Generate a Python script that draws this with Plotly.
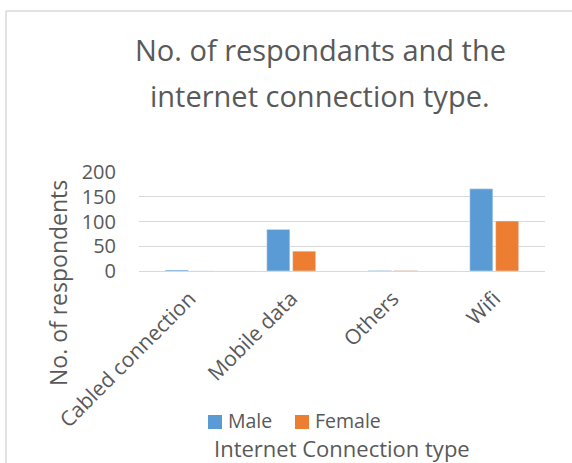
import plotly.graph_objects as go

categories = ["Cabled connection", "Mobile data", "Others", "Wifi"]
male = [2, 84, 1, 166]
female = [0, 40, 1, 101]
y_ticks = [0, 50, 100, 150, 200]
series_names = ["Male", "Female"]
series_colors = ["#5B9BD5", "#ED7D31"]

W, H = 572, 463
L, R, T, B = 139, 545, 172, 271  # plot area in px

def px(x):
    return (x - L) / (R - L)

def py(y):
    return (B - y) / (B - T)

FONT = "Open Sans"
TXT = "#595959"

fig = go.Figure()
for name, vals, col in zip(series_names, [male, female], series_colors):
    fig.add_trace(go.Bar(name=name, x=categories, y=vals, marker_color=col))

annotations = [
    dict(text="No. of respondants and the", x=px(320), y=py(49), xref="paper", yref="paper",
         showarrow=False, xanchor="center", yanchor="middle", font=dict(size=29, color=TXT)),
    dict(text="internet connection type.", x=px(320), y=py(95), xref="paper", yref="paper",
         showarrow=False, xanchor="center", yanchor="middle", font=dict(size=29, color=TXT)),
    dict(text="No. of respondents", x=px(58), y=py(283), xref="paper", yref="paper",
         showarrow=False, textangle=-90, xanchor="center", yanchor="middle",
         font=dict(size=23, color=TXT)),
    dict(text="Internet Connection type", x=px(342), y=py(447.5), xref="paper", yref="paper",
         showarrow=False, xanchor="center", yanchor="middle",
         font=dict(size=22, color=TXT)),
]
shapes = [
    dict(type="line", xref="paper", yref="paper", x0=px(6), x1=px(580), y0=py(11), y1=py(11),
         line=dict(color="#D9D9D9", width=1.5)),
    dict(type="line", xref="paper", yref="paper", x0=px(6), x1=px(6), y0=py(11), y1=py(470),
         line=dict(color="#D9D9D9", width=1.5)),
]
# manual legend
leg_x = [208, 295]
for name, col, lx in zip(series_names, series_colors, leg_x):
    shapes.append(dict(type="rect", xref="paper", yref="paper", x0=px(lx), x1=px(lx + 14),
                       y0=py(415), y1=py(429), fillcolor=col, line=dict(width=0)))
    annotations.append(dict(text=name, x=px(lx + 18), y=py(420), xref="paper", yref="paper",
                            showarrow=False, xanchor="left", yanchor="middle",
                            font=dict(size=19.5, color=TXT)))

fig.update_layout(
    width=W, height=H,
    margin=dict(l=L, r=W - R, t=T, b=H - B, pad=0),
    paper_bgcolor="white", plot_bgcolor="white",
    barmode="group", bargap=0.49, bargroupgap=0.11,
    font=dict(family=FONT, color=TXT),
    showlegend=False,
    xaxis=dict(tickangle=-45, tickfont=dict(size=21, color=TXT), showgrid=False,
               showline=True, linecolor="#D9D9D9", linewidth=1, ticks="",
               ticklabelstandoff=6),
    yaxis=dict(range=[0, 200], tickvals=y_ticks, tickfont=dict(size=20, color=TXT),
               showgrid=True, gridcolor="#D9D9D9", gridwidth=1, zeroline=False,
               showline=False, ticklabelstandoff=22),
    annotations=annotations,
    shapes=shapes,
)

fig.write_html("out.html")
